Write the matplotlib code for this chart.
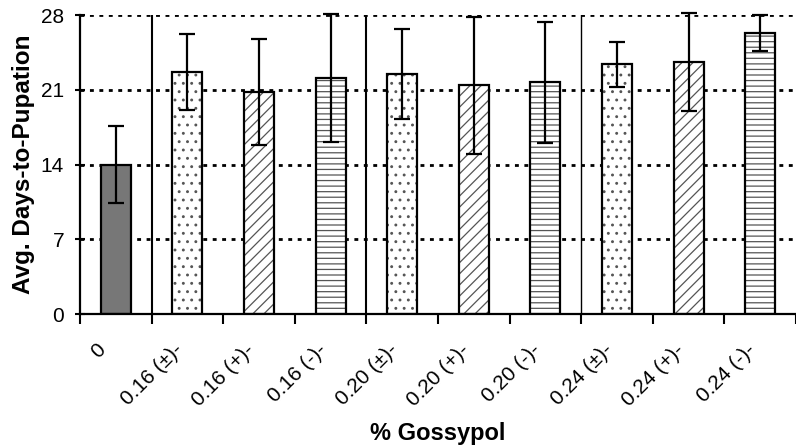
import numpy as np
import matplotlib
matplotlib.use("Agg")
import matplotlib.pyplot as plt
from matplotlib.transforms import ScaledTranslation

plt.rcParams['font.family'] = ['Liberation Sans', 'DejaVu Sans']
plt.rcParams['hatch.linewidth'] = 0.9

labels = ['0', '0.16 (±)-', '0.16 (+)-', '0.16 (-)-',
          '0.20 (±)-', '0.20 (+)-', '0.20 (-)-',
          '0.24 (±)-', '0.24 (+)-', '0.24 (-)-']
means = [14.0, 22.7, 20.8, 22.1, 22.5, 21.4, 21.7, 23.4, 23.6, 26.3]
errs = [3.6, 3.55, 4.95, 6.0, 4.2, 6.4, 5.65, 2.1, 4.6, 1.7]
hatches = ['', '..', '///', '---', '..', '///', '---', '..', '///', '---']

x = np.arange(len(labels))

fig = plt.figure(figsize=(7.96, 4.47), dpi=100)
ax = fig.add_axes([0.1005, 0.2975, 0.8995, 0.6689])

ax.set_axisbelow(True)
ax.yaxis.grid(True, color='black', linewidth=2, linestyle=(0, (1.4, 2.0)))

w = 0.42
for i in range(len(x)):
    face = '#777777' if i == 0 else 'white'
    # hatch layer (gray), then black outline
    ax.bar(x[i], means[i], width=w, color=face, edgecolor='#555555',
           hatch=hatches[i], linewidth=0, zorder=2)
    ax.bar(x[i], means[i], width=w, color='none', edgecolor='black',
           linewidth=1.6, zorder=3)

ax.errorbar(x, means, yerr=errs, fmt='none', ecolor='black', elinewidth=1.6,
            capsize=5.5, capthick=1.6, zorder=4, clip_on=False)

for sep, lw in [(0.5, 1.5), (3.5, 1.5), (6.5, 1.0)]:
    ax.axvline(sep, color='black', linewidth=lw, zorder=3)

ax.set_xlim(-0.5, 9.5)
ax.set_ylim(0, 28)
ax.set_yticks([0, 7, 14, 21, 28])
ax.tick_params(axis='y', direction='inout', length=7, width=1.5, labelsize=15, pad=8)

ax.set_xticks(np.arange(-0.5, 10, 1.0))
ax.set_xticklabels([])
ax.tick_params(axis='x', which='major', direction='out', length=7, width=1.5)
ax.set_xticks(x, minor=True)
ax.set_xticklabels(labels, minor=True, rotation=45, ha='right', va='top',
                   fontsize=15, rotation_mode='anchor')
ax.tick_params(axis='x', which='minor', length=0, pad=19)
for i, lab in enumerate(ax.get_xticklabels(minor=True)):
    dx = -20 if i == 0 else -14
    lab.set_transform(lab.get_transform() + ScaledTranslation(dx / 100, 0, fig.dpi_scale_trans))

for s in ['top', 'right']:
    ax.spines[s].set_visible(False)
for s in ['left', 'bottom']:
    ax.spines[s].set_linewidth(1.6)

ax.set_ylabel('Avg. Days-to-Pupation', fontsize=17.5, fontweight='bold', labelpad=4)
ax.set_xlabel('% Gossypol', fontsize=17, fontweight='bold', labelpad=9)

fig.savefig('out.png', dpi=100)
